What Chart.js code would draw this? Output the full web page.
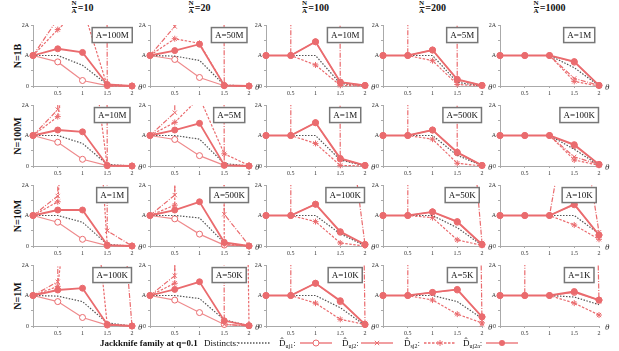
<!DOCTYPE html>
<html>
<head>
<meta charset="utf-8">
<script src="https://cdn.jsdelivr.net/npm/chart.js@4/dist/chart.umd.min.js"></script>
<style>
body { margin: 0; background: #fff; width: 619px; height: 351px; position: relative; overflow: hidden;
       font-family: 'Liberation Serif', 'DejaVu Serif', serif; color: #111; }
canvas.panel { position: absolute; }
.ctitle { position: absolute; top: 0; height: 15px; font-weight: bold; font-size: 10px; transform: translateX(-50%);
          white-space: nowrap; display: flex; align-items: center; }
.frac { display: inline-flex; flex-direction: column; align-items: center; font-size: 7px; line-height: 7px; margin-right: 1px; }
.frac .den { border-top: 1px solid #111; }
.rlabel { position: absolute; font-weight: bold; font-size: 10px; white-space: nowrap;
          transform: translate(-50%, -50%) rotate(-90deg); }
.lg { position: absolute; top: 336px; font-size: 9px; line-height: 14px; white-space: nowrap; }
.lg sub { font-size: 6px; vertical-align: -2px; }
</style>
</head>
<body>
<script>
// jackknife family at q=0.1, values in units of A
var thetas = [0, 0.5, 1, 1.5, 2];
var colTitles = ['10', '20', '100', '200', '1000'];
var rowTitles = ['N=1B', 'N=100M', 'N=10M', 'N=1M'];
var aLabels = [
    '100M', '50M', '10M', '5M', '1M',
    '10M', '5M', '1M', '500K', '100K',
    '1M', '500K', '100K', '50K', '10K',
    '100K', '50K', '10K', '5K', '1K'
];
var H = 300; // blows up off the top of the panel

var distincts = [
    [1, 1.0, 0.68, 0.05, 0], [1, 0.98, 0.84, 0.03, 0], [1, 1, 1.0, 0.08, 0], [1, 1, 1.0, 0.12, 0], [1, 1, 1, 0.6, 0.01],
    [1, 1.0, 0.74, 0.05, 0], [1, 1.0, 0.88, 0.08, 0], [1, 1, 1.0, 0.2, 0], [1, 1, 1.0, 0.35, 0.01], [1, 1, 1, 0.55, 0.02],
    [1, 1.0, 0.78, 0.05, 0], [1, 1.0, 0.92, 0.1, 0], [1, 1, 1.0, 0.4, 0.01], [1, 1, 1.0, 0.6, 0.02], [1, 1, 1, 1.0, 0.4],
    [1, 0.98, 0.8, 0.1, 0], [1, 1.0, 0.9, 0.2, 0.01], [1, 1, 1.0, 0.6, 0.02], [1, 1, 1.0, 0.8, 0.25], [1, 1, 1, 0.95, 0.7]
];
var uj1 = [
    [1, 0.79, 0.18, 0.01, 0], [1, 0.87, 0.28, 0.01, 0], [1, 1, 1.45, 0.12, 0.02], [1, 1, 1.18, 0.2, 0.02], [1, 1, 1, 0.78, 0.02],
    [1, 0.78, 0.22, 0.01, 0], [1, 0.87, 0.34, 0.02, 0], [1, 1, 1.42, 0.23, 0.02], [1, 1, 1.18, 0.43, 0.02], [1, 1, 1, 0.67, 0.05],
    [1, 0.78, 0.22, 0.01, 0], [1, 0.89, 0.39, 0.03, 0], [1, 1, 1.37, 0.45, 0.05], [1, 1, 1.12, 0.78, 0.05], [1, 1, 1, 1.35, 0.36],
    [1, 0.8, 0.28, 0.03, 0], [1, 0.85, 0.44, 0.05, 0.01], [1, 1, 1.4, 0.8, 0.05], [1, 1, 1.1, 1.18, 0.3], [1, 1, 1, 1.1, 0.85]
];
var uj2 = [
    [1, 2.2, H, 0, 0], [1, 1.95, H, 0.01, 0], [1, 1, H, 0.1, 0], [1, 1, H, 0.2, 0], [1, 1, 1, 0.25, 0.02],
    [1, 1.85, H, 0, 0], [1, 1.75, H, 0.02, 0], [1, 1, H, 0.25, 0], [1, 1, H, 0.45, 0.01], [1, 1, 1, 0.3, 0.05],
    [1, 1.64, H, 0.5, 0], [1, 1.67, H, 1.04, 0.02], [1, 1, H, 6.3, 0.05], [1, 1, H, 9.6, 0.1], [1, 1, 1, 5.6, 0.45],
    [1, 1.45, H, 10, 0], [1, 1.65, H, 0.05, 0], [1, 1, H, 60, 0.1], [1, 1, H, 60, 0.05], [1, 1, H, 40, 0.8]
];
var sj2 = [
    [1, 1.85, 2.6, 0, 0], [1, 1.55, 1.4, 0.02, 0], [1, 1, 0.69, 0.02, 0], [1, 1, 0.83, 0.05, 0], [1, 1, 1, 0.15, 0],
    [1, 1.62, 6.25, 0, 0], [1, 1.43, 2.24, 0.4, 0.02], [1, 1, 0.74, 0.02, 0], [1, 1, 0.88, 0.09, 0], [1, 1, 1, 0.2, 0.02],
    [1, 1.45, 12.4, 0.02, 0], [1, 1.34, H, 0.05, 0], [1, 1, 0.8, 0.1, 0], [1, 1, 0.93, 0.2, 0.02], [1, 1, 1, 0.69, 0.22],
    [1, 1.3, 8, 0.03, 0], [1, 1.4, H, 60, 0.02], [1, 1, 0.75, 0.22, 0.05], [1, 1, 0.85, 0.39, 0.1], [1, 1, 1, 0.75, 0.36]
];
var uj2a = [
    [1, 1.22, 1.1, 0.05, 0], [1, 1.16, 1.37, 0.02, 0], [1, 1, 1.45, 0.13, 0.02], [1, 1, 1.18, 0.22, 0.02], [1, 1, 1, 0.8, 0.02],
    [1, 1.18, 1.12, 0.02, 0], [1, 1.18, 1.4, 0.03, 0], [1, 1, 1.42, 0.25, 0.02], [1, 1, 1.18, 0.45, 0.02], [1, 1, 1, 0.7, 0.05],
    [1, 1.18, 1.18, 0.03, 0], [1, 1.18, 1.45, 0.12, 0], [1, 1, 1.37, 0.47, 0.05], [1, 1, 1.12, 0.8, 0.05], [1, 1, 1, 1.37, 0.36],
    [1, 1.18, 1.24, 0.05, 0], [1, 1.2, 1.45, 0.17, 0.01], [1, 1, 1.4, 0.83, 0.05], [1, 1, 1.1, 1.2, 0.3], [1, 1, 1, 1.13, 0.85]
];

var RED = '#ea6b6e';
var AXIS_X = [33, 150, 266, 383, 500];
var ROW_TOP = [25, 105, 185, 265];
var SERIF = "'Liberation Serif', 'DejaVu Serif', serif";

// white box with A=... plus the theta at the end of the x axis
var panelBox = {
    id: 'panelBox',
    afterDatasetsDraw: function (chart, args, opts) {
        var ctx = chart.ctx, area = chart.chartArea;
        var cx = chart.scales.x.getPixelForValue(1.6);
        var cy = chart.scales.y.getPixelForValue(1.67);
        ctx.save();
        ctx.font = '9px ' + SERIF;
        var w = ctx.measureText(opts.text).width + 7, h = 15;
        ctx.fillStyle = '#fff';
        ctx.fillRect(cx - w / 2, cy - h / 2, w, h);
        ctx.strokeStyle = '#777';
        ctx.lineWidth = 1.5;
        ctx.strokeRect(cx - w / 2, cy - h / 2, w, h);
        ctx.fillStyle = '#111';
        ctx.textAlign = 'center';
        ctx.textBaseline = 'middle';
        ctx.fillText(opts.text, cx, cy + 0.5);
        ctx.font = 'italic 9px ' + SERIF;
        ctx.textAlign = 'left';
        ctx.fillStyle = '#333';
        ctx.fillText('\u03b8', area.right + 6, area.bottom + 2);
        ctx.restore();
    }
};

function series(vals, style) {
    var ds = {
        data: thetas.map(function (t, i) { return { x: t, y: vals[i] }; }),
        borderColor: RED, borderWidth: 1.2, tension: 0,
        pointRadius: 3, pointBorderWidth: 1, pointBorderColor: RED, pointBackgroundColor: RED,
        clip: { left: 5, right: 5, top: 0, bottom: 5 }
    };
    return Object.assign(ds, style);
}

function axisOpts(labelFn, fitFn) {
    return {
        type: 'linear', min: 0, max: 2, afterFit: fitFn,
        ticks: { stepSize: 0.5, autoSkip: false, maxRotation: 0, padding: 2, color: '#333',
                 font: { size: 6, family: SERIF }, callback: labelFn },
        grid: { drawOnChartArea: false, tickLength: 2, color: '#aaa' },
        border: { color: '#aaa', width: 1 }
    };
}

function makePanel(r, c) {
    var k = r * 5 + c;
    var cv = document.createElement('canvas');
    cv.className = 'panel';
    cv.width = 134; cv.height = 81;
    cv.style.left = (AXIS_X[c] - 20) + 'px';
    cv.style.top = (ROW_TOP[r] - 6) + 'px';
    document.body.appendChild(cv);

    // first dataset is drawn on top
    new Chart(cv, {
        type: 'line',
        data: {
            datasets: [
                series(uj2a[k], { borderWidth: 1.8 }),
                series(sj2[k], { borderDash: [2.5, 1.5], pointStyle: 'star' }),
                series(uj2[k], { borderDash: [5, 1.5, 1, 1.5], pointStyle: 'crossRot' }),
                series(distincts[k], { borderColor: '#555', borderDash: [1.5, 1.5], pointRadius: 0 }),
                series(uj1[k], { borderColor: 'rgba(234,107,110,0.8)', pointBackgroundColor: '#fff' })
            ]
        },
        options: {
            responsive: false, animation: false, devicePixelRatio: 1,
            layout: { padding: { left: 0, right: 15, top: 6, bottom: 0 } },
            plugins: { legend: { display: false }, tooltip: { enabled: false }, panelBox: { text: 'A=' + aLabels[k] } },
            scales: {
                x: axisOpts(function (v) { return v === 0 ? '' : String(v); }, function (s) { s.height = 14; }),
                y: axisOpts(function (v) { return v === 0 ? '0' : v === 1 ? 'A' : v === 2 ? '2A' : ''; }, function (s) { s.width = 20; })
            }
        },
        plugins: [panelBox]
    });
}

function addDiv(cls, html, left, top) {
    var d = document.createElement('div');
    d.className = cls;
    d.innerHTML = html;
    d.style.left = left + 'px';
    if (top !== undefined) d.style.top = top + 'px';
    document.body.appendChild(d);
    return d;
}

colTitles.forEach(function (t, c) {
    addDiv('ctitle', '<span class="frac"><span>N</span><span class="den">A</span></span>=' + t, AXIS_X[c] + 49.5);
});
rowTitles.forEach(function (t, r) {
    addDiv('rlabel', t, 17, ROW_TOP[r] + 30.5);
});
for (var r = 0; r < 4; r++) {
    for (var c = 0; c < 5; c++) makePanel(r, c);
}

// legend row
function sample(left, dash, marker, color) {
    var m = '';
    if (marker === 'o') m = '<circle cx="16" cy="7" r="3" fill="#fff" stroke="' + RED + '" stroke-width="1"/>';
    if (marker === 'O') m = '<circle cx="16" cy="7" r="3" fill="' + RED + '"/>';
    if (marker === 'x') m = '<path d="M13.8 4.8L18.2 9.2M18.2 4.8L13.8 9.2" stroke="' + RED + '" stroke-width="1"/>';
    if (marker === '*') m = '<path d="M16 4V10M13.4 5.5L18.6 8.5M18.6 5.5L13.4 8.5" stroke="' + RED + '" stroke-width="1"/>';
    addDiv('lg', '<svg width="32" height="14"><line x1="0" y1="7" x2="32" y2="7" stroke="' + color +
        '" stroke-width="1.3" stroke-dasharray="' + dash + '"/>' + m + '</svg>', left);
}
addDiv('lg', '<b>Jackknife family at q=0.1</b>', 100);
addDiv('lg', 'Distincts:', 204);
sample(238, '1.5 1.5', '', '#555');
addDiv('lg', 'D\u0302<sub>uj1</sub>:', 279);
sample(300, 'none', 'o', RED);
addDiv('lg', 'D\u0302<sub>uj2</sub>:', 342);
sample(361, 'none', 'x', RED);
addDiv('lg', 'D\u0302<sub>sj2</sub>:', 404);
sample(424, '2.5 1.5', '*', RED);
addDiv('lg', 'D\u0302<sub>uj2a</sub>:', 463);
sample(486, 'none', 'O', RED);
</script>
</body>
</html>
